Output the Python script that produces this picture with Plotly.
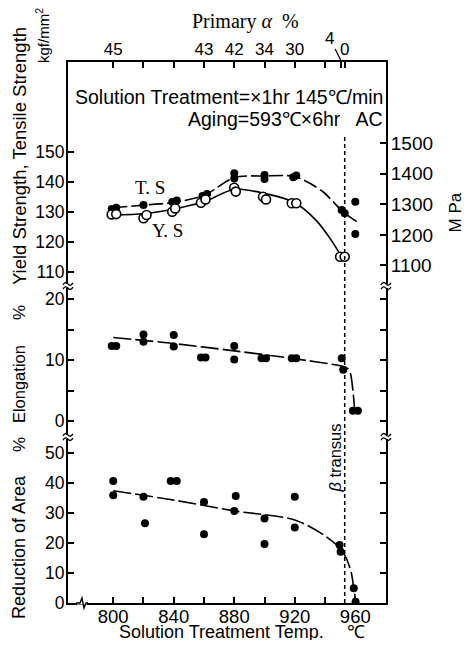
import plotly.graph_objects as go

# ---------------- data ----------------
temp_ticks = [800, 820, 840, 860, 880, 900, 920, 940, 960]
temp_labels = ["800", "", "840", "", "880", "", "920", "", "960"]

alpha_ticks = [800, 820, 840, 860, 880, 900, 920, 940, 950.5, 953]
alpha_labels = ["45", "", "", "43", "42", "34", "30", "", "", "0"]

ts_t = [799, 802, 820, 839, 842, 859, 862, 880, 880, 900, 900, 919, 921, 951, 953, 960, 960]
ts_v = [131.0, 131.4, 132.3, 133.3, 133.8, 135.3, 136.0, 141.2, 142.9, 141.0, 142.3, 141.6, 142.2, 130.7, 129.6, 133.4, 122.7]

ys_t = [799, 802, 820, 822, 839, 841, 858, 861, 880, 881, 899, 901, 918, 921, 950, 953]
ys_v = [129.2, 129.3, 127.9, 129.0, 130.1, 131.2, 133.1, 134.2, 138.1, 136.8, 135.1, 134.2, 132.9, 132.9, 115.1, 115.1]

ts_curve_t = [800, 820, 840, 860, 880, 900, 920, 938, 952, 961]
ts_curve_v = [131.4, 132.3, 133.2, 135.5, 141.5, 142.0, 141.8, 137.0, 130.0, 126.8]

ys_curve_t = [800, 820, 840, 860, 880, 900, 920, 934, 944, 951]
ys_curve_v = [129.0, 129.4, 131.0, 133.4, 137.6, 136.2, 133.1, 127.3, 120.7, 115.0]

el_t = [799, 802, 820, 820, 840, 840, 858, 861, 880, 880, 898, 901, 918, 921, 951, 952, 958.4, 961.7]
el_v = [12.3, 12.3, 14.2, 13.0, 14.1, 12.2, 10.4, 10.4, 12.3, 10.1, 10.3, 10.3, 10.3, 10.3, 10.3, 8.4, 1.7, 1.7]

el_curve_t = [800, 840, 880, 920, 951, 955, 956.8, 958.4, 959.5]
el_curve_v = [13.7, 12.7, 11.5, 10.2, 9.0, 8.6, 7.8, 5.1, 2.1]

ra_t = [800, 800, 820, 821, 838, 842, 860, 860, 881, 880, 900, 900, 920, 920, 949.6, 950.3, 959, 960.2]
ra_v = [40.7, 35.9, 35.4, 26.6, 40.7, 40.7, 33.7, 22.9, 35.7, 30.7, 28.2, 19.7, 35.4, 25.2, 19.3, 17.1, 4.9, 0.4]

ra_curve_t = [800, 840, 880, 920, 939, 950, 954, 957.4, 959, 960.4]
ra_curve_v = [37.4, 34.3, 30.7, 27.7, 22.7, 18.2, 15.0, 10.0, 4.9, 0.3]

beta_transus = 953
KGF_TO_MPA = 9.80665

# ---------------- layout geometry (window pixel coords) ----------------
OFF = 8                      # default page body margin
W, H = 474 - 2 * OFF, 648 - 2 * OFF
L, R, T, B = 68, 386.5, 62, 603
PW, PH = R - L, B - T

def px(X):
    return (X - L) / PW

def py(Y):
    return (B - Y) / PH

brk1, brk2 = 286, 437
d_ra = [0, py(brk2)]
d_el = [py(brk2), py(brk1)]
d_st = [py(brk1), 1]

st_range = [150 - (brk1 - 152) / 3, 180]
el_range = [-(brk2 - 421) / 6.1, 20 + (299 - brk1) / 6.1]
ra_range = [0, (B - brk2) / 3]
x_range = [770.1, 980.3]

SANS = "Liberation Sans"
SERIF = "Liberation Serif"

fig = go.Figure()

def curve(x, y, yaxis, dash):
    fig.add_trace(go.Scatter(x=x, y=y, xaxis="x", yaxis=yaxis, mode="lines",
                             line=dict(color="black", width=1.6, dash=dash, shape="spline", smoothing=0.8),
                             showlegend=False, hoverinfo="skip"))

def dots(x, y, yaxis):
    fig.add_trace(go.Scatter(x=x, y=y, xaxis="x", yaxis=yaxis, mode="markers",
                             marker=dict(symbol="circle", size=8, color="black"),
                             showlegend=False))

curve(ts_curve_t, ts_curve_v, "y", "14px,4px")
curve(ys_curve_t, ys_curve_v, "y", "solid")
dots(ts_t, ts_v, "y")
fig.add_trace(go.Scatter(x=ys_t, y=ys_v, xaxis="x", yaxis="y", mode="markers",
                         marker=dict(symbol="circle", size=9, color="white",
                                     line=dict(width=1.6, color="black")),
                         showlegend=False))
curve(el_curve_t, el_curve_v, "y2", "18px,4px")
dots(el_t, el_v, "y2")
curve(ra_curve_t, ra_curve_v, "y3", "18px,4px")
dots(ra_t, ra_v, "y3")
# invisible traces to activate the secondary axes
fig.add_trace(go.Scatter(x=[x_range[0]], y=[st_range[0] * KGF_TO_MPA], xaxis="x", yaxis="y4",
                         mode="markers", marker=dict(opacity=0), showlegend=False, hoverinfo="skip"))
fig.add_trace(go.Scatter(x=[x_range[0]], y=[st_range[0]], xaxis="x4", yaxis="y",
                         mode="markers", marker=dict(opacity=0), showlegend=False, hoverinfo="skip"))

def ac(size, standoff=0):
    return dict(showline=True, linecolor="black", linewidth=2, ticks="inside", ticklen=6,
                tickwidth=1.6, tickcolor="black", showgrid=False, zeroline=False,
                ticklabelstandoff=standoff,
                tickfont=dict(family=SANS, size=size, color="black"))

fig.update_layout(
    width=W, height=H,
    margin=dict(l=L - OFF, r=W - (R - OFF), t=T - OFF, b=H - (B - OFF)),
    paper_bgcolor="white", plot_bgcolor="rgba(0,0,0,0)",
    showlegend=False,
    xaxis=dict(domain=[0, 1], anchor="y3", range=x_range, tickvals=temp_ticks,
               ticktext=temp_labels, **ac(18.5, -4)),
    xaxis4=dict(overlaying="x", side="top", anchor="y", range=x_range, tickvals=alpha_ticks,
                ticktext=alpha_labels, **ac(17, -2)),
    yaxis=dict(domain=d_st, anchor="x", range=st_range, tickvals=[110, 120, 130, 140, 150],
               **ac(17.5, -2)),
    yaxis2=dict(domain=d_el, anchor="x", range=el_range, tickvals=[0, 5, 10, 15, 20],
                ticktext=["0", "", "10", "", "20"], mirror="ticks", **ac(17.5, -2)),
    yaxis3=dict(domain=d_ra, anchor="x", range=ra_range, tickvals=[0, 10, 20, 30, 40, 50],
                mirror="ticks", **ac(17.5, -2)),
    yaxis4=dict(overlaying="y", side="right", anchor="x",
                range=[st_range[0] * KGF_TO_MPA, st_range[1] * KGF_TO_MPA],
                tickvals=[1100, 1200, 1300, 1400, 1500], **ac(19, -1)),
)

# beta transus line
fig.add_shape(type="line", xref="x", yref="paper", x0=beta_transus, x1=beta_transus,
              y0=0, y1=py(137), line=dict(color="black", width=1.5, dash="4px,3px"))

def ann(text, X, Y, size=16, family=SANS, angle=0, xanchor="center"):
    fig.add_annotation(text=text, xref="paper", yref="paper", x=px(X), y=py(Y),
                       showarrow=False, textangle=angle, xanchor=xanchor, yanchor="middle",
                       font=dict(family=family, size=size, color="black"))

ann("Yield Strength, Tensile Strength", 19, 156, size=18.5, family=SANS, angle=-90)
ann("kgf/mm<sup>2</sup>", 42, 36, size=15, family=SANS, angle=-90)
ann("Elongation", 19, 384, size=16.5, family=SANS, angle=-90)
ann("%", 19, 313, size=17, family=SANS, angle=-90)
ann("Reduction of Area", 19, 547, size=18, family=SANS, angle=-90)
ann("%", 19, 445, size=17, family=SANS, angle=-90)
ann("M Pa", 457, 212, size=17, family=SANS, angle=-90)
ann("Primary <i>α</i>  %", 246, 22, size=20, family=SERIF)
ann("Solution Treatment=×1hr 145℃/min", 385, 97, size=19.5, family=SANS, xanchor="right")
ann("Aging=593℃×6hr   AC", 385, 119, size=19.5, family=SANS, xanchor="right")
ann("<i>β</i> transus", 335, 458, size=16.5, family=SANS, angle=-90)
ann("Solution Treatment Temp.", 222, 632, size=18, family=SANS)
ann("℃", 356, 632, size=18, family=SANS)

fig.add_annotation(text="T. S", xref="x", yref="y", x=824, y=138.3, showarrow=False,
                   font=dict(family=SERIF, size=19, color="black"))
fig.add_annotation(text="Y. S", xref="x", yref="y", x=836, y=124, showarrow=False,
                   font=dict(family=SERIF, size=19, color="black"))
# "4" label with leader
fig.add_annotation(text="4", xref="x", yref="paper", x=951, y=1, ax=-12, ay=-24,
                   showarrow=True, arrowhead=0, arrowwidth=1.3, arrowcolor="black",
                   font=dict(family=SANS, size=17, color="black"))

# axis break marks (gap + two wavy strokes)
def wave(X, Y):
    return (f"M {px(X-5)},{py(Y+1)} Q {px(X-2.5)},{py(Y-3)} {px(X)},{py(Y)} "
            f"Q {px(X+2.5)},{py(Y+3)} {px(X+5)},{py(Y-1)}")

for X in (L, R):
    for Yb in (brk1, brk2):
        fig.add_shape(type="rect", xref="paper", yref="paper", x0=px(X - 3), x1=px(X + 3),
                      y0=py(Yb + 2), y1=py(Yb - 2), fillcolor="white", line=dict(width=0),
                      layer="above")
        for dy in (-2.2, 2.2):
            fig.add_shape(type="path", xref="paper", yref="paper", path=wave(X, Yb + dy),
                          line=dict(color="black", width=1.3), layer="above")

# squiggle on bottom axis
fig.add_shape(type="rect", xref="paper", yref="paper", x0=px(77), x1=px(87), y0=py(601.5), y1=py(604.5),
              fillcolor="white", line=dict(width=0), layer="above")
fig.add_shape(type="path", xref="paper", yref="paper",
              path=f"M {px(76)},{py(603)} L {px(80)},{py(603)} L {px(82)},{py(598)} L {px(84)},{py(608)} L {px(86)},{py(603)} L {px(88)},{py(603)}",
              line=dict(color="black", width=1.4), layer="above")

fig.write_html("out.html")
